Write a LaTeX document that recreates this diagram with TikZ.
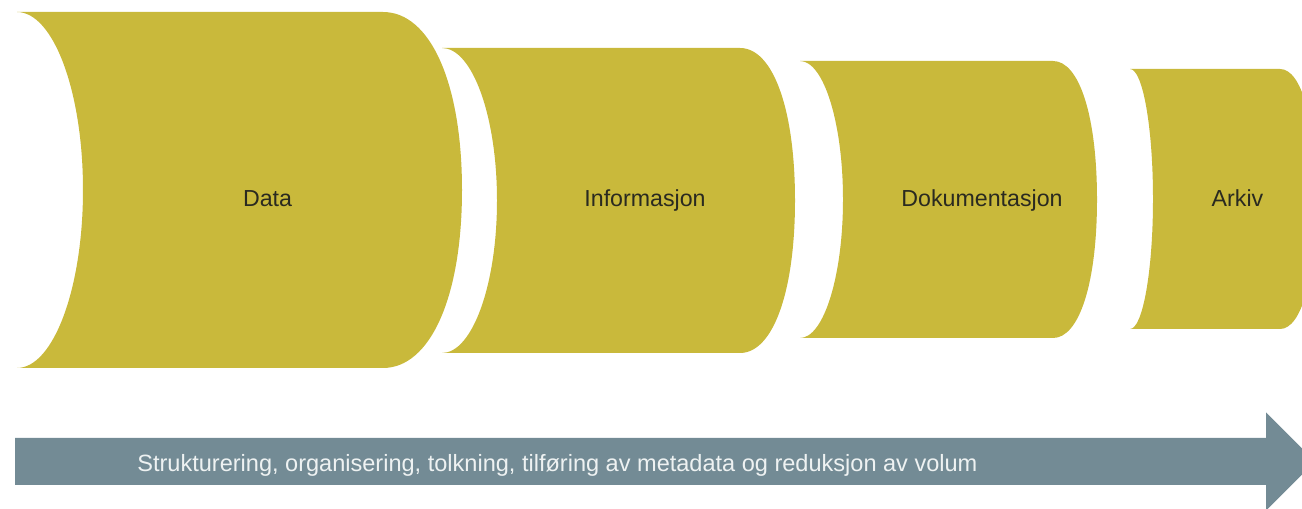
\documentclass[tikz,border=0pt]{standalone}
\usepackage{fontspec}
\setmainfont{Liberation Sans}
\usepackage{tikz}

\definecolor{drumolive}{HTML}{C9B93B}
\definecolor{flowgrey}{HTML}{738B95}
\definecolor{flowwhite}{HTML}{EEF2F2}
\definecolor{labeldark}{HTML}{2A2A20}

% one drum: left x, right x, top y, bottom y, hollow depth, bulge depth
\newcommand{\drum}[6]{%
  \pgfmathsetmacro\drumMid{(#3+#4)/2}%
  \pgfmathsetmacro\drumHalf{(#4-#3)/2}%
  \fill[drumfill] (#1,#3) -- (#2,#3)
    .. controls ({#2+0.6*#6},#3) and ({#2+#6},{\drumMid-0.6*\drumHalf}) .. ({#2+#6},\drumMid)
    .. controls ({#2+#6},{\drumMid+0.6*\drumHalf}) and ({#2+0.6*#6},#4) .. (#2,#4)
    -- (#1,#4)
    .. controls ({#1+0.552*#5},#4) and ({#1+#5},{\drumMid+0.552*\drumHalf}) .. ({#1+#5},\drumMid)
    .. controls ({#1+#5},{\drumMid-0.552*\drumHalf}) and ({#1+0.552*#5},#3) .. (#1,#3)
    -- cycle;}

\begin{document}
\begin{tikzpicture}
    [x=0.02cm,y=-0.02cm,
     drumfill/.style={fill=drumolive},
     drumlabel/.style={anchor=base,inner sep=0pt,text=labeldark,font=\fontsize{13.2pt}{15pt}\selectfont},
     flowtext/.style={anchor=base west,inner sep=0pt,text=flowwhite,font=\fontsize{13.4pt}{16pt}\selectfont}]
    \useasboundingbox (0,0) rectangle (1302,509);
    \clip (0,0) rectangle (1302,509);
    \drum{17}{383}{12}{368}{66}{79}
    \drum{442}{740}{48}{353}{55}{55}
    \drum{800}{1053}{61}{338}{43}{44}
    \drum{1130}{1280}{69}{329}{23}{36}
    \node[drumlabel] (data) at (267.5,207) {Data};
    \node[drumlabel] (info) at (645,207) {Informasjon};
    \node[drumlabel] (doku) at (982,207) {Dokumentasjon};
    \node[drumlabel] (arkiv) at (1237.5,207) {Arkiv};
    \fill[flowgrey] (15,438) -- (1266,438) -- (1266,412.5) -- (1315,461.5)
      -- (1266,510.5) -- (1266,485) -- (15,485) -- cycle;
    \node[flowtext] (flow) at (137,472)
      {Strukturering, organisering, tolkning, tilføring av metadata og reduksjon av volum};
  \end{tikzpicture}
\end{document}
